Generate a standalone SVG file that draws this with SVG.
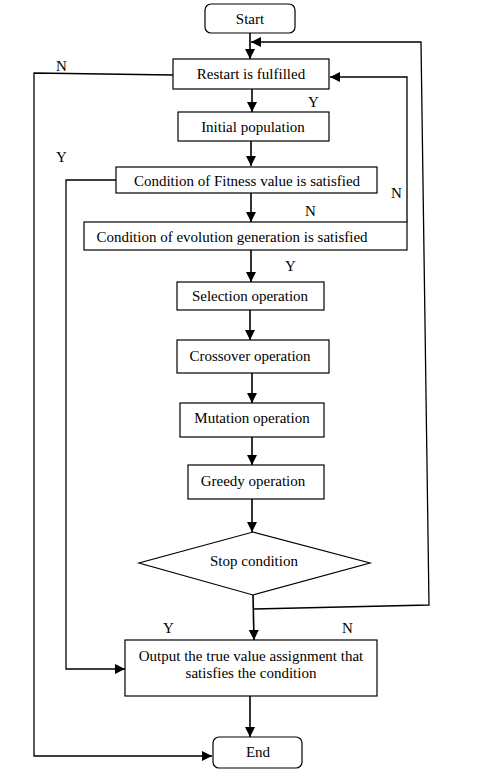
<svg xmlns="http://www.w3.org/2000/svg" width="489" height="779" viewBox="0 0 489 779">
<style>
.b{fill:#fff;stroke:#000;stroke-width:1.2}
.t{font-family:"Liberation Serif","Times New Roman",serif;font-size:15px;fill:#000;text-anchor:middle}
.l{font-family:"Liberation Serif","Times New Roman",serif;font-size:15px;fill:#000}
.c{fill:none;stroke:#000;stroke-width:1.3}
.a{fill:none;stroke:#000;stroke-width:1.6}
</style>
<defs>
<marker id="ar" viewBox="0 0 10 10" refX="10" refY="5" markerWidth="10" markerHeight="10" markerUnits="userSpaceOnUse" orient="auto">
<path d="M0,0 L10,5 L0,10 z" fill="#000"/>
</marker>
</defs>
<rect width="489" height="779" fill="#fff"/>
<g id="connectors">
<path class="a" d="M250,33 V59" marker-end="url(#ar)"/>
<path class="c" d="M254,609 L429,605 L421,42 H251" marker-end="url(#ar)"/>
<path class="c" d="M407,222 V77 H330" marker-end="url(#ar)"/>
<path class="c" d="M173,75 L34,73 V756 H212" marker-end="url(#ar)"/>
<path class="a" d="M252,89 V112" marker-end="url(#ar)"/>
<path class="a" d="M251,141 V166" marker-end="url(#ar)"/>
<path class="c" d="M116,180 H66 V669 H125" marker-end="url(#ar)"/>
<path class="a" d="M251,193 V222" marker-end="url(#ar)"/>
<path class="a" d="M251,250 V282" marker-end="url(#ar)"/>
<path class="a" d="M250,310 V340" marker-end="url(#ar)"/>
<path class="a" d="M252,373 V403" marker-end="url(#ar)"/>
<path class="a" d="M252,437 V465" marker-end="url(#ar)"/>
<path class="a" d="M252,499 V532" marker-end="url(#ar)"/>
<path class="a" d="M253,595 L254,640" marker-end="url(#ar)"/>
<path class="a" d="M250,696 V737" marker-end="url(#ar)"/>
<text class="l" x="56" y="71">N</text>
<text class="l" x="308" y="107">Y</text>
<text class="l" x="56" y="162">Y</text>
<text class="l" x="391" y="198">N</text>
<text class="l" x="305" y="216">N</text>
<text class="l" x="285" y="271">Y</text>
<text class="l" x="163" y="633">Y</text>
<text class="l" x="342" y="633">N</text>
</g>
<g id="start"><rect class="b" x="205" y="4" width="90" height="29" rx="6"/><text class="t" x="250" y="24">Start</text></g>
<g id="restart"><rect class="b" x="173" y="59" width="156" height="30"/><text class="t" x="251" y="79">Restart is fulfilled</text></g>
<g id="initial"><rect class="b" x="178" y="112" width="151" height="29"/><text class="t" x="253" y="132">Initial population</text></g>
<g id="fitness"><rect class="b" x="116" y="167" width="261" height="26"/><text class="t" x="247" y="186">Condition of Fitness value is satisfied</text></g>
<g id="evolution"><rect class="b" x="84" y="222" width="323" height="28"/><text class="t" x="232" y="242">Condition of evolution generation is satisfied</text></g>
<g id="selection"><rect class="b" x="177" y="282" width="147" height="28"/><text class="t" x="250" y="301">Selection operation</text></g>
<g id="crossover"><rect class="b" x="177" y="340" width="152" height="33"/><text class="t" x="250" y="361">Crossover operation</text></g>
<g id="mutation"><rect class="b" x="180" y="403" width="144" height="34"/><text class="t" x="252" y="423">Mutation operation</text></g>
<g id="greedy"><rect class="b" x="188" y="465" width="136" height="34"/><text class="t" x="253" y="486">Greedy operation</text></g>
<g id="stop"><path class="b" d="M253,532 L370,563 L253,595 L139,563 Z"/><text class="t" x="254" y="566">Stop condition</text></g>
<g id="output"><rect class="b" x="125" y="640" width="252" height="56"/><text class="t" x="251" y="661">Output the true value assignment that</text><text class="t" x="251" y="678">satisfies the condition</text></g>
<g id="end"><rect class="b" x="213" y="737" width="89" height="31" rx="6"/><text class="t" x="258" y="757">End</text></g>
</svg>
